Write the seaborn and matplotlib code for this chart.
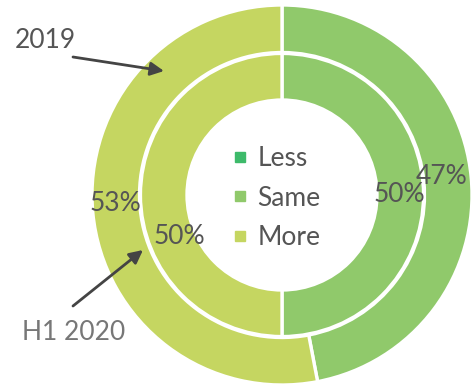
import matplotlib
matplotlib.use("Agg")
import matplotlib.pyplot as plt
from matplotlib.lines import Line2D
import numpy as np
import seaborn as sns

categories = ["Less", "Same", "More"]
values_2019 = [0, 47, 53]
values_h1_2020 = [0, 50, 50]
colors = ["#3dba6a", "#90c96b", "#c5d661"]
ring_labels = ["2019", "H1 2020"]

sns.set_theme(style="white")
plt.rcParams["font.family"] = ["Lato", "DejaVu Sans"]

W, H = 472, 386
fig = plt.figure(figsize=(W / 100, H / 100), dpi=100)
cx, cy, R = 282, 195, 190
ax = fig.add_axes([(cx - R) / W, (H - cy - R) / H, 2 * R / W, 2 * R / H])

edge = dict(edgecolor="white", linewidth=2.4)
ax.pie(values_2019, colors=colors, radius=1.0, startangle=90, counterclock=False,
       wedgeprops=dict(width=0.25, **edge))
ax.pie(values_h1_2020, colors=colors, radius=0.745, startangle=90, counterclock=False,
       wedgeprops=dict(width=0.245, **edge))
ax.set_xlim(-1, 1)
ax.set_ylim(-1, 1)
ax.set_aspect("equal")
ax.axis("off")

FS = 19

def add_labels(vals, radii, nudges):
    start = 90.0
    total = sum(vals)
    for v, r, nd in zip(vals, radii, nudges):
        span = 360.0 * v / total
        if v > 0:
            mid = np.deg2rad(start - span / 2 + nd)
            ax.text(r * np.cos(mid), r * np.sin(mid), f"{v}%", ha="center", va="center",
                    fontsize=FS, color="#555555")
        start -= span

add_labels(values_2019, [0.86, 0.845, 0.88], [0, 1.1, -2.4])
add_labels(values_h1_2020, [0.6, 0.62, 0.585], [0, 0, 22])

handles = [Line2D([0], [0], marker="s", linestyle="", markersize=6.5,
                  markerfacecolor=c, markeredgecolor=c) for c in colors]
leg = ax.legend(handles, categories, loc="center", bbox_to_anchor=(0.485, 0.492),
                frameon=False, fontsize=FS, handlelength=0.6, handletextpad=0.35,
                labelspacing=0.55)
for t in leg.get_texts():
    t.set_color("#555555")

arrow = dict(arrowstyle="-|>", mutation_scale=20, lw=2, color="#444444",
             shrinkA=0, shrinkB=0)
fig.text(15 / W, 1 - 41 / H, ring_labels[0], fontsize=FS, color="#555555",
         ha="left", va="center")
fig.text(22 / W, 1 - 332 / H, ring_labels[1], fontsize=FS, color="#777777",
         ha="left", va="center")
ax.annotate("", xy=(164, H - 71), xytext=(73, H - 57), xycoords="figure pixels",
            textcoords="figure pixels", arrowprops=arrow)
ax.annotate("", xy=(143, H - 250), xytext=(73, H - 306), xycoords="figure pixels",
            textcoords="figure pixels", arrowprops=arrow)

fig.savefig("out.png", dpi=100)
